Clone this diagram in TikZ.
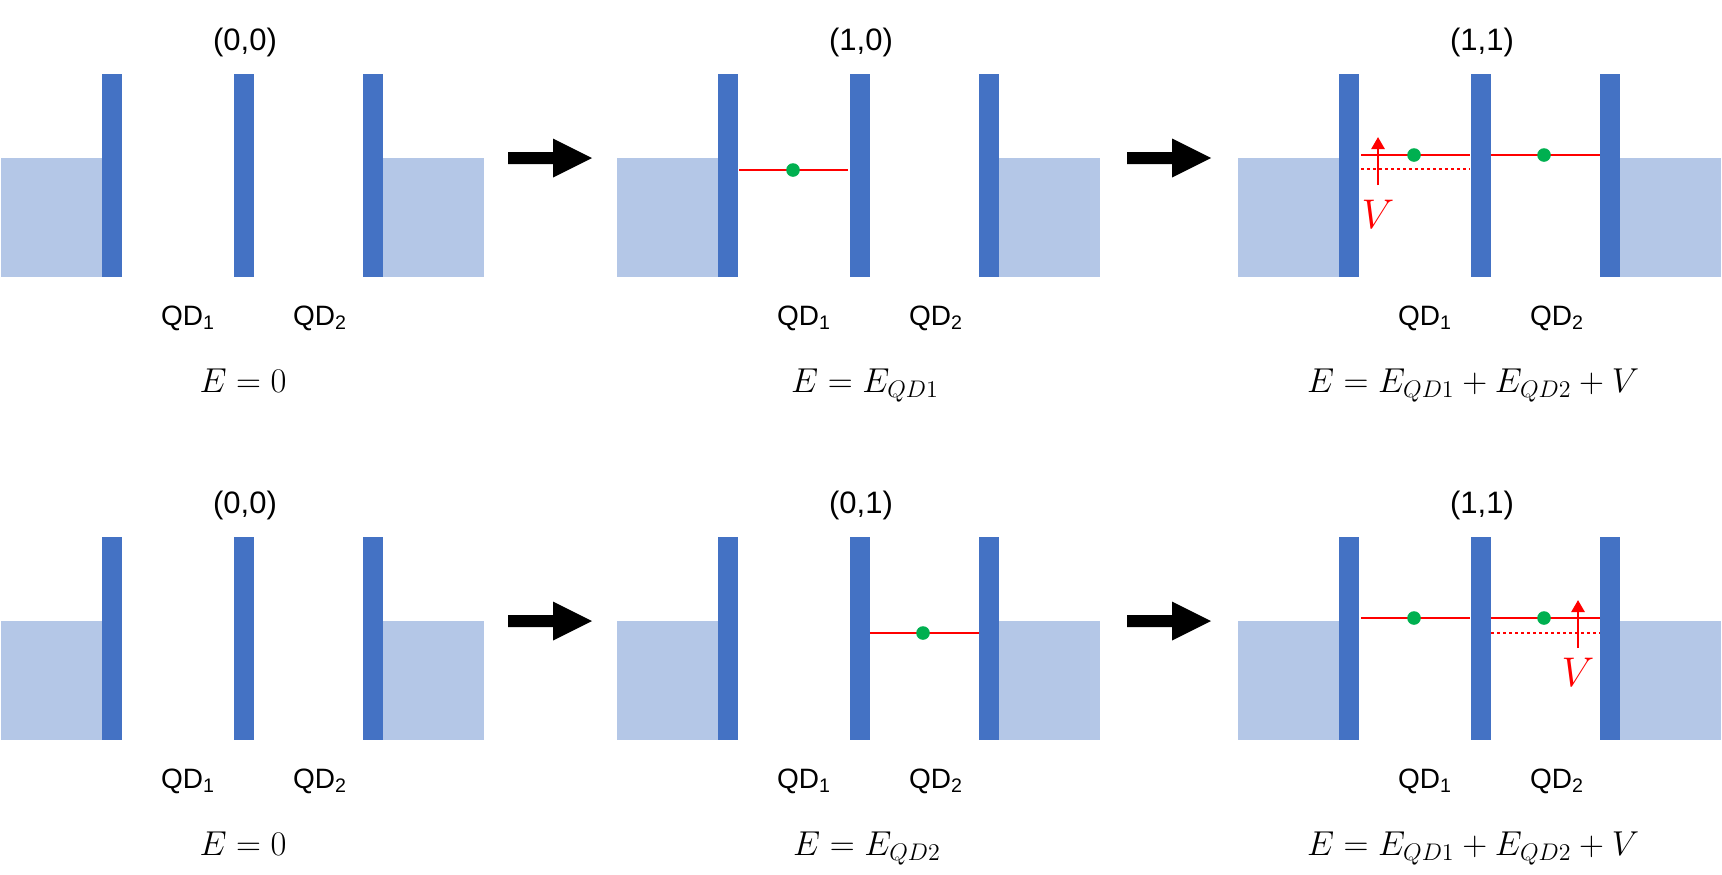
\documentclass[tikz,border=0pt]{standalone}
\usepackage{fontspec}
\setsansfont{Liberation Sans}
\usetikzlibrary{arrows.meta}
\definecolor{barrierblue}{HTML}{4472C4}
\definecolor{leadblue}{HTML}{B4C7E7}
\definecolor{dotgreen}{HTML}{00B050}
\definecolor{lvlred}{HTML}{FF0000}
\tikzset{
  titlelbl/.style={inner sep=0pt, anchor=base, font=\sffamily\fontsize{15.5}{18}\selectfont},
  qdlbl/.style={inner sep=0pt, anchor=base, font=\sffamily\fontsize{14}{16}\selectfont},
  eqlbl/.style={inner sep=0pt, anchor=base, font=\fontsize{18.5}{22}\selectfont},
  vlbl/.style={inner sep=0pt, anchor=base, text=lvlred, font=\fontsize{20}{22}\selectfont},
  lvl/.style={draw=lvlred, line width=1.35pt},
  lvlshift/.style={draw=lvlred, line width=1.35pt, dash pattern=on 1.4pt off 1.6pt},
  varrow/.style={draw=lvlred, line width=1.3pt, -{Triangle[length=6pt,width=6.5pt]}},
  electron/.style={circle, fill=dotgreen, inner sep=0pt, minimum size=6.8pt},
  bigarrow/.style={fill=black},
}
\newcommand\qdpanel[6]{% #1 dx, #2 dy, #3 prefix, #4 title, #5 equation, #6 eq x
  \begin{scope}[shift={(#1,#2)}]
    \fill[leadblue] (1,158) rectangle (102,277);
    \fill[leadblue] (383,158) rectangle (484,277);
    \fill[barrierblue] (102,74) rectangle (122,277);
    \fill[barrierblue] (234,74) rectangle (254,277);
    \fill[barrierblue] (363,74) rectangle (383,277);
    \node[titlelbl] (#3title) at (245,50) {#4};
    \node[qdlbl] (#3qda) at (188,325) {QD\textsubscript{1}};
    \node[qdlbl] (#3qdb) at (320,325) {QD\textsubscript{2}};
    \node[eqlbl] (#3eq) at (#6,392) {#5};
  \end{scope}}
\newcommand\bigarr[2]{%
  \fill[bigarrow] (#1,#2-6) -- (#1+45,#2-6) -- (#1+45,#2-19.5) -- (#1+84,#2) -- (#1+45,#2+19.5) -- (#1+45,#2+6) -- (#1,#2+6) -- cycle;}
\begin{document}
\begin{tikzpicture}[x=0.5pt,y=-0.5pt]
\useasboundingbox (0,0) rectangle (1722,874);
% ---------------- top row
\qdpanel{0}{0}{ta}{(0,0)}{$E=0$}{243}
\qdpanel{616}{0}{tb}{(1,0)}{$E=E_{QD1}$}{249}
\qdpanel{1237}{0}{tc}{(1,1)}{$E=E_{QD1}+E_{QD2}+V$}{236}
\bigarr{508}{158}
\bigarr{1127}{158}
% panel (1,0)
\begin{scope}[shift={(616,0)}]
  \coordinate (tbl1a) at (123,170); \coordinate (tbl1b) at (232,170);
  \draw[lvl] (tbl1a) -- (tbl1b);
  \node[electron] (tbe1) at (177,170) {};
\end{scope}
% panel (1,1) top
\begin{scope}[shift={(1237,0)}]
  \coordinate (tcl1a) at (124,155); \coordinate (tcl1b) at (233,155);
  \coordinate (tcl2a) at (254,155); \coordinate (tcl2b) at (363,155);
  \coordinate (tcd1a) at (124,169); \coordinate (tcd1b) at (233,169);
  \draw[lvl] (tcl1a) -- (tcl1b);
  \draw[lvl] (tcl2a) -- (tcl2b);
  \draw[lvlshift] (tcd1a) -- (tcd1b);
  \node[electron] (tce1) at (177,155) {};
  \node[electron] (tce2) at (307,155) {};
  \coordinate (tcva) at (141,185); \coordinate (tcvb) at (141,137);
  \draw[varrow] (tcva) -- (tcvb);
  \node[vlbl] (tcv) at (141,228) {$V$};
\end{scope}
% ---------------- bottom row
\qdpanel{0}{463}{ba}{(0,0)}{$E=0$}{243}
\qdpanel{616}{463}{bb}{(0,1)}{$E=E_{QD2}$}{251}
\qdpanel{1237}{463}{bc}{(1,1)}{$E=E_{QD1}+E_{QD2}+V$}{236}
\bigarr{508}{621}
\bigarr{1127}{621}
% panel (0,1)
\begin{scope}[shift={(616,463)}]
  \coordinate (bbl2a) at (254,170); \coordinate (bbl2b) at (363,170);
  \draw[lvl] (bbl2a) -- (bbl2b);
  \node[electron] (bbe2) at (307,170) {};
\end{scope}
% panel (1,1) bottom
\begin{scope}[shift={(1237,463)}]
  \coordinate (bcl1a) at (124,155); \coordinate (bcl1b) at (233,155);
  \coordinate (bcl2a) at (254,155); \coordinate (bcl2b) at (363,155);
  \coordinate (bcd2a) at (254,170); \coordinate (bcd2b) at (363,170);
  \draw[lvl] (bcl1a) -- (bcl1b);
  \draw[lvl] (bcl2a) -- (bcl2b);
  \draw[lvlshift] (bcd2a) -- (bcd2b);
  \node[electron] (bce1) at (177,155) {};
  \node[electron] (bce2) at (307,155) {};
  \coordinate (bcva) at (341,185); \coordinate (bcvb) at (341,137);
  \draw[varrow] (bcva) -- (bcvb);
  \node[vlbl] (bcv) at (341,223) {$V$};
\end{scope}
\end{tikzpicture}
\end{document}
